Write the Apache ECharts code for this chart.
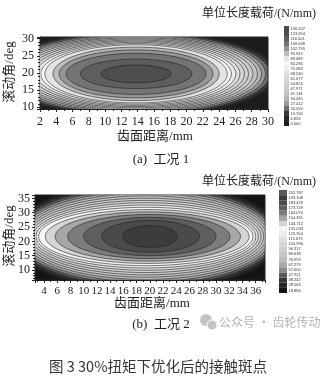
<!DOCTYPE html>
<html><head><meta charset="utf-8">
<script src="https://cdn.jsdelivr.net/npm/echarts@6/dist/echarts.min.js"></script>
<style>html,body{margin:0;padding:0;background:#fff}#c{width:324px;height:380px}</style>
</head><body><div id="c"></div>
<script>
// ---------- (a) 工况 1 ----------
const legend1 = ['0.000','6.853','13.706','20.559','27.412','34.265','41.118','47.971','54.824','61.677','68.530','75.383','82.236','89.089','95.942','102.795','109.648','116.501','123.354','130.207'];
const colors1 = ['#1c1c1c','#262626','#3a3a3a','#6d6d6d','#999999','#b6b6b6','#c4c4c4','#cbcbcb','#d0d0d0','#d6d6d6','#e0e0e0','#ececec','#f6f6f6','#e4e4e4','#bcbcbc','#959595','#747474','#5e5e5e','#4e4e4e','#4a4a4a'];
// contour level k = 1..18 : extents of each closed contour (mm, deg)
const levels1 = [1,2,3,4,5,6,7,8,9,10,11,12,13,14,15,16,17,18];
const xL1 = [-3.7,-3.2,-2.65,-2.1,-1.6,-1.1,-0.55,0.0,0.5,1.05,1.55,2.1,2.6,3.6,4.35,5.2,6.95,9.5];
const xR1 = [31.3,30.8,30.25,29.7,29.2,28.7,28.15,27.6,27.1,26.55,26.05,25.5,25.0,24.0,23.25,22.4,20.65,18.1];
const yB1 = [7.15,7.5,7.85,8.15,8.5,8.85,9.15,9.5,9.85,10.2,10.55,10.9,11.25,11.95,12.75,13.75,15.45,17.15];
const yT1 = [32.35,32.0,31.65,31.35,31.0,30.65,30.35,30.0,29.65,29.3,28.95,28.6,28.25,27.55,26.75,25.75,24.05,22.35];

// ---------- (b) 工况 2 ----------
const legend2 = ['18.884','28.563','38.242','47.921','57.600','67.279','76.959','86.638','96.317','105.996','115.675','125.354','135.033','144.712','154.391','164.070','173.749','183.429','193.108','202.787'];
const colors2 = ['#141414','#222222','#353535','#5a5a5a','#8a8a8a','#aaaaaa','#bdbdbd','#c6c6c6','#cdcdcd','#d4d4d4','#dedede','#ececec','#f6f6f6','#d4d4d4','#a6a6a6','#7c7c7c','#5e5e5e','#4a4a4a','#3c3c3c','#5a5a5a'];
const levels2 = [1,2,3,4,5,6,7,8,9,10,11,12,13,14,15,16,17,18];
const xL2 = [-1.2,-0.8,-0.4,0.0,0.4,0.8,1.2,1.6,2.0,2.4,2.8,3.2,4.2,5.7,7.6,10.0,12.7,15.9];
const xR2 = [40.0,39.6,39.2,38.8,38.4,38.0,37.6,37.2,36.8,36.4,36.0,35.6,35.0,33.7,32.1,30.0,27.5,24.2];
const yB2 = [2.7,3.5,4.3,5.1,5.9,6.7,7.5,8.3,9.1,9.9,10.7,11.5,12.3,13.1,14.0,15.0,16.2,17.9];
const yT2 = [40.7,39.9,39.1,38.3,37.5,36.7,35.9,35.1,34.3,33.5,32.7,31.9,31.1,30.3,29.4,28.4,27.3,25.5];

const serif = "'Liberation Serif','Times New Roman','Noto Sans CJK SC',serif";
const cjk = "'Noto Sans CJK SC','Noto Sans',sans-serif";

function contourData(levels, xL, xR, yB, yT) {
  return levels.map((k, i) => [k, xL[i], xR[i], yB[i], yT[i]]);
}
function ellipseRender(colors) {
  return function (params, api) {
    const k = api.value(0);
    const p1 = api.coord([api.value(1), api.value(3)]);
    const p2 = api.coord([api.value(2), api.value(4)]);
    const cx = (p1[0] + p2[0]) / 2, cy = (p1[1] + p2[1]) / 2;
    const rx = Math.abs(p2[0] - p1[0]) / 2, ry = Math.abs(p2[1] - p1[1]) / 2;
    const pts = [];
    for (let i = 0; i < 160; i++) {
      const t = i / 160 * Math.PI * 2;
      pts.push([cx + rx * Math.cos(t), cy + ry * Math.sin(t)]);
    }
    const cs = params.coordSys;
    return {
      type: 'polygon',
      shape: { points: pts },
      style: { fill: colors[k], stroke: '#1e1e1e', lineWidth: 0.6 },
      clipPath: { type: 'rect', shape: { x: cs.x + 0.6, y: cs.y + 0.6, width: cs.width - 1.2, height: cs.height - 1.2 } }
    };
  };
}
function mulFmt(step) {
  return v => (Math.abs(v / step - Math.round(v / step)) < 1e-6 ? String(Math.round(v)) : '');
}
const tickLabel = { fontFamily: serif, fontSize: 12, color: '#222' };

const option = {
  animation: false,
  backgroundColor: '#fff',
  grid: [
    { left: 40, top: 37, width: 228, height: 72, show: true, backgroundColor: colors1[0], borderColor: '#222', borderWidth: 1 },
    { left: 35, top: 195, width: 230, height: 85, show: true, backgroundColor: colors2[0], borderColor: '#222', borderWidth: 1 },
    { left: 284, top: 26, width: 5, height: 100 },
    { left: 279, top: 190, width: 8, height: 103 }
  ],
  xAxis: [
    { gridIndex: 0, type: 'value', min: 2, max: 30, interval: 2,
      axisLine: { lineStyle: { color: '#222' } }, axisTick: { length: 3, lineStyle: { color: '#222' } },
      minorTick: { show: true, splitNumber: 2, length: 2, lineStyle: { color: '#222' } },
      splitLine: { show: false }, axisLabel: Object.assign({ margin: 7 }, tickLabel) },
    { gridIndex: 1, type: 'value', min: 2.65, max: 37.4, minInterval: 2, maxInterval: 2, splitNumber: 17,
      axisLine: { lineStyle: { color: '#222' } }, axisTick: { length: 3, lineStyle: { color: '#222' } },
      minorTick: { show: true, splitNumber: 2, length: 2, lineStyle: { color: '#222' } },
      splitLine: { show: false }, axisLabel: Object.assign({}, tickLabel, { fontSize: 11, margin: 6, formatter: mulFmt(2), showMinLabel: false, showMaxLabel: false }) },
    { gridIndex: 2, type: 'value', min: 0, max: 1, show: false },
    { gridIndex: 3, type: 'value', min: 0, max: 1, show: false }
  ],
  yAxis: [
    { gridIndex: 0, type: 'value', min: 9.5, max: 30.5, minInterval: 5, maxInterval: 5, splitNumber: 4,
      axisLine: { show: true, lineStyle: { color: '#222' } }, axisTick: { show: true, length: 3, lineStyle: { color: '#222' } },
      minorTick: { show: true, splitNumber: 5, length: 2, lineStyle: { color: '#222' } },
      splitLine: { show: false }, axisLabel: Object.assign({ margin: 6, formatter: mulFmt(5), showMinLabel: false, showMaxLabel: false }, tickLabel) },
    { gridIndex: 1, type: 'value', min: 6.5, max: 36.2, minInterval: 5, maxInterval: 5, splitNumber: 6,
      axisLine: { show: true, lineStyle: { color: '#222' } }, axisTick: { show: true, length: 3, lineStyle: { color: '#222' } },
      minorTick: { show: true, splitNumber: 5, length: 2, lineStyle: { color: '#222' } },
      splitLine: { show: false }, axisLabel: Object.assign({ margin: 5, formatter: mulFmt(5), showMinLabel: false, showMaxLabel: false }, tickLabel) },
    { gridIndex: 2, type: 'category', data: legend1, position: 'right', axisLine: { show: false }, axisTick: { show: false },
      axisLabel: { interval: 0, fontSize: 4, margin: 1.5, color: '#333', fontFamily: "Arial,'Liberation Sans',sans-serif" } },
    { gridIndex: 3, type: 'category', data: legend2, position: 'right', axisLine: { show: false }, axisTick: { show: false },
      axisLabel: { interval: 0, fontSize: 4, margin: 1.5, color: '#333', fontFamily: "Arial,'Liberation Sans',sans-serif" } }
  ],
  series: [
    { type: 'custom', xAxisIndex: 0, yAxisIndex: 0, renderItem: ellipseRender(colors1),
      data: contourData(levels1, xL1, xR1, yB1, yT1), encode: { x: [1, 2], y: [3, 4] }, silent: true },
    { type: 'custom', xAxisIndex: 1, yAxisIndex: 1, renderItem: ellipseRender(colors2),
      data: contourData(levels2, xL2, xR2, yB2, yT2), encode: { x: [1, 2], y: [3, 4] }, silent: true },
    { type: 'bar', xAxisIndex: 2, yAxisIndex: 2, barWidth: '100%', barCategoryGap: 0,
      data: legend1.map((_, i) => ({ value: 1, itemStyle: { color: colors1[i] } })), silent: true },
    { type: 'bar', xAxisIndex: 3, yAxisIndex: 3, barWidth: '100%', barCategoryGap: 0,
      data: legend2.map((_, i) => ({ value: 1, itemStyle: { color: colors2[i] } })), silent: true }
  ],
  graphic: [
    { type: 'text', x: 316, y: 14, style: { text: '单位长度载荷/(N/mm)', fontSize: 12, fontFamily: serif, fill: '#222', align: 'right', verticalAlign: 'middle' } },
    { type: 'text', x: 10, y: 72, rotation: Math.PI / 2, style: { text: '滚动角/deg', fontSize: 13, fontFamily: serif, fill: '#222', align: 'center', verticalAlign: 'middle' } },
    { type: 'text', x: 155, y: 137, style: { text: '齿面距离/mm', fontSize: 13, fontFamily: serif, fill: '#222', align: 'center', verticalAlign: 'middle' } },
    { type: 'text', x: 161, y: 160, style: { text: '(a)  工况 1', fontSize: 13, fontFamily: serif, fill: '#222', align: 'center', verticalAlign: 'middle' } },
    { type: 'text', x: 316, y: 182, style: { text: '单位长度载荷/(N/mm)', fontSize: 12, fontFamily: serif, fill: '#222', align: 'right', verticalAlign: 'middle' } },
    { type: 'text', x: 10, y: 236, rotation: Math.PI / 2, style: { text: '滚动角/deg', fontSize: 13, fontFamily: serif, fill: '#222', align: 'center', verticalAlign: 'middle' } },
    { type: 'text', x: 152, y: 304, style: { text: '齿面距离/mm', fontSize: 13, fontFamily: serif, fill: '#222', align: 'center', verticalAlign: 'middle' } },
    { type: 'text', x: 161, y: 325, style: { text: '(b)  工况 2', fontSize: 13, fontFamily: serif, fill: '#222', align: 'center', verticalAlign: 'middle' } },
    { type: 'circle', shape: { cx: 206, cy: 320, r: 6 }, style: { fill: '#c4c4c4' } },
    { type: 'circle', shape: { cx: 212, cy: 325, r: 5 }, style: { fill: '#c4c4c4', stroke: '#fff', lineWidth: 1 } },
    { type: 'text', x: 219, y: 322, style: { text: '公众号 · 齿轮传动', fontSize: 12, fontFamily: cjk, fill: '#b4b4b4', align: 'left', verticalAlign: 'middle' } },
    { type: 'text', x: 158, y: 366, style: { text: '图 3 30%扭矩下优化后的接触斑点', fontSize: 14.5, fontFamily: cjk, fill: '#333', align: 'center', verticalAlign: 'middle' } }
  ]
};
const chart = echarts.init(document.getElementById('c'), null, { renderer: 'canvas' });
chart.setOption(option);
</script>
</body></html>
